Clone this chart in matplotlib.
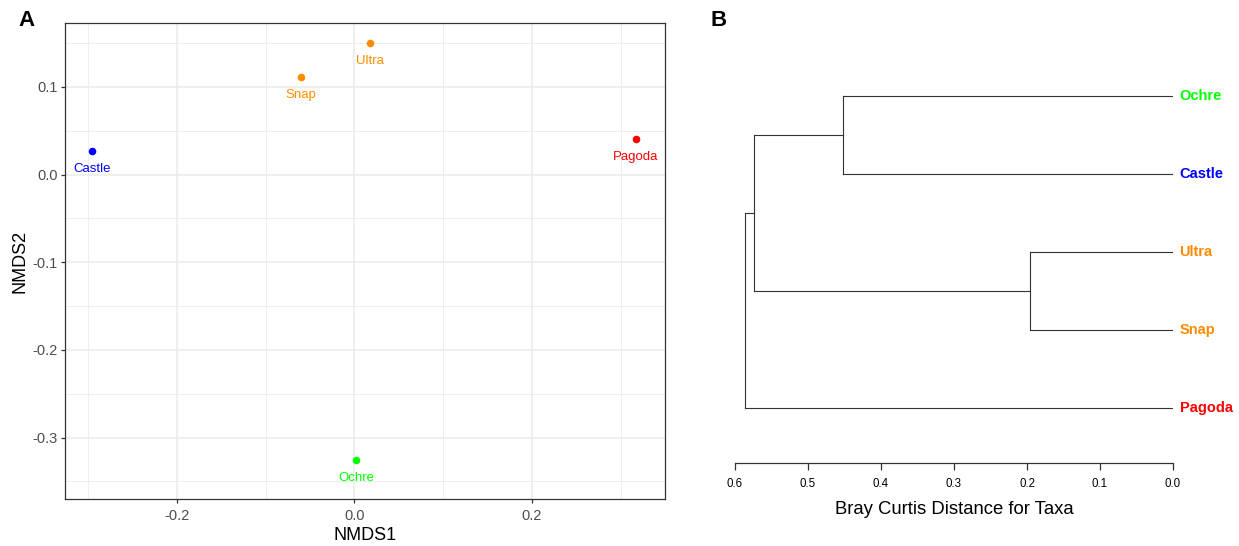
import matplotlib.pyplot as plt
from matplotlib.ticker import MultipleLocator

plt.rcParams['font.family'] = ['Liberation Sans', 'DejaVu Sans']

# NMDS ordination (panel A)
sites = ['Castle', 'Snap', 'Ultra', 'Pagoda', 'Ochre']
nmds1 = [-0.296, -0.060, 0.018, 0.317, 0.002]
nmds2 = [0.027, 0.111, 0.150, 0.041, -0.326]
site_colors = {'Castle': '#0000FF', 'Snap': '#FF8C00', 'Ultra': '#FF8C00',
               'Pagoda': '#FF0000', 'Ochre': '#00FF00'}

# Bray-Curtis clustering (panel B): leaf order bottom to top, merges as (a, b, height)
leaves = ['Pagoda', 'Snap', 'Ultra', 'Castle', 'Ochre']
merges = [('Ochre', 'Castle', 0.452),
          ('Ultra', 'Snap', 0.196),
          (('Ochre', 'Castle'), ('Ultra', 'Snap'), 0.574),
          ((('Ochre', 'Castle'), ('Ultra', 'Snap')), 'Pagoda', 0.586)]
dist_ticks = [0.6, 0.5, 0.4, 0.3, 0.2, 0.1, 0.0]

W, H = 1239, 546
fig = plt.figure(figsize=(W / 100, H / 100), dpi=100)

# ---------------- panel A ----------------
ax = fig.add_axes([65 / W, 1 - 499 / H, (665 - 65) / W, (499 - 23) / H])
ax.set_xlim(-0.326, 0.350)
ax.set_ylim(-0.370, 0.173)
ax.xaxis.set_major_locator(MultipleLocator(0.2))
ax.xaxis.set_minor_locator(MultipleLocator(0.1))
ax.yaxis.set_major_locator(MultipleLocator(0.1))
ax.yaxis.set_minor_locator(MultipleLocator(0.05))
ax.grid(which='major', color='#EBEBEB', lw=1.1)
ax.grid(which='minor', color='#EBEBEB', lw=0.6)
ax.set_axisbelow(True)
for s in ax.spines.values():
    s.set_color('#333333')
    s.set_linewidth(0.9)
ax.tick_params(which='major', length=3, width=0.9, color='#333333',
               labelsize=10.5, labelcolor='#4D4D4D', pad=2)
ax.tick_params(axis='x', which='major', pad=4)
ax.tick_params(which='minor', length=0)
ax.xaxis.set_major_formatter(plt.FuncFormatter(lambda v, p: f'{v:.1f}'))
ax.yaxis.set_major_formatter(plt.FuncFormatter(lambda v, p: f'{v:.1f}'))
ax.set_xlabel('NMDS1', fontsize=13, labelpad=3)
ax.set_ylabel('NMDS2', fontsize=13, labelpad=3)

for name, x, y in zip(sites, nmds1, nmds2):
    c = site_colors[name]
    ax.scatter(x, y, s=30, color=c, zorder=3, linewidths=0)
    ax.annotate(name, (x, y), xytext=(0, -13), textcoords='offset points',
                ha='center', va='center', fontsize=9.5, color=c)

fig.text(18 / W, 1 - 20 / H, 'A', fontsize=16, fontweight='bold', va='center')
fig.text(710 / W, 1 - 20 / H, 'B', fontsize=16, fontweight='bold', va='center')

# ---------------- panel B ----------------
bx = fig.add_axes([735 / W, 1 - 463 / H, (1173 - 735) / W, (463 - 70) / H])
bx.set_xlim(0.6, 0.0)
bx.set_ylim(0.295, 5.33)

pos = {leaf: i + 1 for i, leaf in enumerate(leaves)}
hgt = {leaf: 0.0 for leaf in leaves}
for a, b, h in merges:
    for child in (a, b):
        bx.plot([h, hgt[child]], [pos[child], pos[child]], color='#333333', lw=0.8)
    bx.plot([h, h], [pos[a], pos[b]], color='#333333', lw=0.8)
    pos[(a, b)] = (pos[a] + pos[b]) / 2
    hgt[(a, b)] = h

for leaf in leaves:
    bx.text(-0.009, pos[leaf], leaf, color=site_colors[leaf], fontsize=10.5,
            fontweight='bold', ha='left', va='center', clip_on=False)

for side in ('top', 'right', 'left'):
    bx.spines[side].set_visible(False)
bx.spines['bottom'].set_color('#333333')
bx.spines['bottom'].set_linewidth(0.9)
bx.set_yticks([])
bx.set_xticks(dist_ticks)
bx.xaxis.set_major_formatter(plt.FuncFormatter(lambda v, p: f'{v:.1f}'))
bx.tick_params(axis='x', length=5, width=0.9, color='#333333',
               labelsize=8.3, pad=6)
bx.set_xlabel('Bray Curtis Distance for Taxa', fontsize=13.3, labelpad=8)

fig.savefig('out.png', dpi=100)
